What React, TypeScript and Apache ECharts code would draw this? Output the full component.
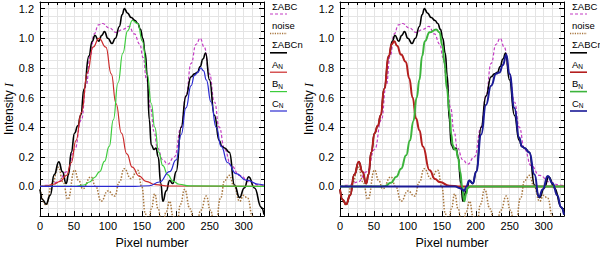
import React, { useEffect, useRef } from 'react';
import * as echarts from 'echarts';

// ---- shared curves (x = pixel number, y = intensity) ----
const sumABC: number[][] = [[0,0],[15,0.01],[26,0.03],[40,0.1],[51,0.25],[61,0.45],[68,0.68],[74,0.88],[80,1.03],[86,1.09],[92,1.1],[102,1.07],[112,1.04],[122,1.06],[131,1.08],[139,1.03],[147,0.96],[152,0.87],[157,0.72],[163,0.53],[168,0.37],[173,0.26],[181,0.18],[188,0.15],[198,0.2],[208,0.4],[215,0.61],[222.6,0.83],[230,0.96],[236,1.0],[242,0.94],[249.6,0.76],[257,0.57],[264,0.4],[272,0.25],[281.6,0.14],[294,0.075],[309,0.03],[323,0.01],[330,0.005]];

const noise: number[][] = [[0,-0.02],[9,-0.125],[18,0.02],[27,0.13],[34,0.03],[41,-0.086],[51,0.11],[57,0.04],[63,-0.015],[75,0.065],[82,0.0],[90,-0.1],[100,-0.03],[110,-0.065],[117,0.03],[124,0.12],[134,0.054],[144,0.11],[150,0.0],[155,-0.18],[159,-0.3],[164,-0.15],[169,-0.05],[174,-0.15],[180,-0.3],[186,-0.17],[191,-0.1],[196,-0.2],[201,-0.3],[207,-0.12],[213,-0.02],[221,-0.15],[229,-0.32],[237,-0.16],[245,-0.065],[251,-0.16],[258,-0.3],[266,-0.08],[272,0.04],[279,0.075],[286,0.0],[294,-0.1],[300,-0.06],[306,-0.08],[313,-0.2],[320,-0.3],[330,-0.4]];

const sumABCn: number[][] = [[0,-0.02],[4,-0.09],[9,-0.12],[15,-0.06],[21,0.08],[27.7,0.166],[33,0.1],[38.6,0.02],[42,0.08],[46,0.23],[51,0.36],[55.7,0.41],[60,0.48],[65,0.66],[72,0.88],[77,0.98],[81,1.02],[86.5,0.98],[91,1.02],[95,1.045],[100,1.0],[106,0.965],[111,1.0],[117,1.08],[121,1.16],[124.4,1.2],[129,1.17],[134.3,1.14],[140,1.12],[144,1.1],[148,1.06],[151.4,1.0],[155,0.9],[158,0.75],[161,0.45],[164,0.28],[168,0.25],[171,0.26],[174,0.2],[178,0.02],[181,-0.1],[186,-0.03],[191,0.04],[195.6,0.02],[200.6,0.1],[208,0.4],[215,0.61],[222.6,0.74],[227.6,0.76],[232,0.77],[236,0.81],[240,0.86],[244,0.9],[249.6,0.72],[257,0.48],[264,0.31],[268,0.27],[272,0.26],[279,0.23],[286.5,0.01],[294,-0.075],[301,-0.01],[307.5,0.065],[316,-0.01],[326,-0.14],[330,-0.19]];

// ---- left panel components ----
const aLeft: number[][] = [[0,0],[10,0.005],[20,0.015],[30,0.035],[39,0.075],[46,0.16],[53,0.31],[61,0.5],[70,0.77],[78,0.94],[87,1.0],[97,0.94],[105,0.76],[112,0.56],[120,0.36],[128,0.22],[136,0.13],[146,0.07],[156,0.035],[170,0.012],[190,0.003],[330,0]];
const bLeft: number[][] = [[0,0],[50,0],[65,0.01],[73,0.03],[80,0.06],[88,0.1],[95,0.17],[102,0.27],[108,0.45],[115,0.7],[122,0.9],[129,1.05],[136,1.12],[144,1.1],[151,0.98],[158,0.76],[164,0.56],[169,0.4],[175,0.23],[181,0.14],[188,0.08],[196,0.035],[205,0.015],[220,0.004],[330,0]];
const cLeft: number[][] = [[0,0],[140,0.001],[161,0.005],[176,0.03],[191,0.1],[200.6,0.18],[208,0.35],[215,0.53],[222.6,0.68],[227.6,0.75],[232.5,0.77],[237,0.8],[241,0.78],[245,0.72],[252,0.57],[259.5,0.4],[267,0.27],[276.6,0.16],[289,0.086],[303.6,0.043],[323,0.015],[330,0.01]];

// ---- right panel components ----
const aRight: number[][] = [[0,-0.02],[4,-0.09],[9,-0.12],[15,-0.06],[21,0.08],[27.7,0.166],[33,0.1],[38.6,0.02],[42,0.08],[46,0.23],[51,0.36],[55.7,0.41],[60,0.48],[65,0.66],[72,0.88],[76,0.96],[80,0.98],[84,0.95],[90,0.89],[97,0.84],[102,0.73],[107,0.6],[112,0.46],[117,0.38],[122,0.27],[132,0.11],[140,0.05],[147,0.03],[161,0.005],[175,0],[330,0]];
const bRight: number[][] = [[0,0],[60,0],[66,0.002],[75,0.025],[83,0.065],[90,0.12],[97.5,0.21],[103,0.31],[108,0.44],[113,0.6],[117,0.72],[121,0.88],[125,0.98],[132,1.04],[141.7,1.06],[146.5,1.04],[151,0.95],[154,0.83],[157.5,0.66],[161.3,0.5],[164,0.35],[166,0.28],[169,0.25],[171,0.25],[174,0.19],[177,0.1],[180,0.0],[183,-0.1],[186,-0.05],[188,-0.01],[192,0],[330,0]];
const cRight: number[][] = [[0,0],[170,0],[176,-0.01],[180,-0.02],[183,-0.03],[186,0.0],[190.5,0.04],[195.6,0.02],[200.6,0.1],[208,0.35],[215,0.55],[222.6,0.68],[230,0.76],[235,0.77],[240,0.82],[245,0.89],[249.6,0.76],[257,0.53],[264,0.33],[268,0.27],[271.7,0.26],[279,0.23],[286.5,0.08],[293,-0.07],[298.7,-0.02],[306,0.07],[313.4,0.02],[320,-0.06],[325.8,-0.14],[330,-0.19]];

const legendLabels = ['ΣABC', 'noise', 'ΣABCn', '{m|A}{s|N}', '{m|B}{s|N}', '{m|C}{s|N}'];

const FONT = '"Liberation Sans", Arial, Helvetica, sans-serif';
const X_MAX = 330;
const Y_MIN = -0.2;
const Y_MAX = 1.245;

const C_MAG = '#c43cc4';
const C_NOISE = '#a8763e';
const C_BLACK = '#000000';

function axesFor(i: number) {
  const gridLine = { show: true, lineStyle: { color: '#e4e4e4', width: 1 } };
  const common = {
    gridIndex: i,
    type: 'value',
    axisLine: { show: true, onZero: false, lineStyle: { color: '#000', width: 1 } },
    axisTick: { show: true, inside: true, length: 5, lineStyle: { color: '#000' } },
    minorTick: { show: true, splitNumber: 4, length: 3, lineStyle: { color: '#000' } },
  };
  const xb = {
    ...common,
    position: 'bottom',
    min: 0, max: X_MAX, interval: 50,
    splitLine: gridLine,
    minorSplitLine: gridLine,
    axisLabel: {
      fontSize: 11, color: '#000', fontFamily: FONT, margin: 4,
      formatter: (v: number) => (Math.abs(v % 50) < 1e-6 ? String(v) : ''),
    },
    name: 'Pixel number', nameLocation: 'middle', nameGap: 19,
    nameTextStyle: { fontSize: 12.5, color: '#000', fontFamily: FONT },
  };
  const xt = {
    ...common,
    position: 'top',
    min: 0, max: X_MAX, interval: 50,
    splitLine: { show: false },
    axisLabel: { show: false },
  };
  const yl = {
    ...common,
    position: 'left',
    min: Y_MIN, max: Y_MAX, interval: 0.2,
    splitLine: gridLine,
    minorSplitLine: gridLine,
    axisLabel: {
      fontSize: 11, color: '#000', fontFamily: FONT, margin: 6,
      formatter: (v: number) => {
        const k = v / 0.2;
        if (Math.abs(k - Math.round(k)) > 1e-6 || v < -0.1) return '';
        return Math.abs(v).toFixed(1);
      },
    },
    name: 'Intensity {i|I}', nameLocation: 'middle', nameGap: 25,
    nameTextStyle: {
      fontSize: 12, color: '#000', fontFamily: FONT,
      rich: { i: { fontSize: 12, fontStyle: 'italic', fontFamily: '"Liberation Serif", serif', color: '#000' } },
    },
  };
  const yr = {
    ...common,
    position: 'right',
    min: Y_MIN, max: Y_MAX, interval: 0.2,
    splitLine: { show: false },
    axisLabel: { show: false },
  };
  return { x: [xb, xt], y: [yl, yr] };
}

function line(name: string, data: number[][], xi: number, yi: number, color: string, width: number, type: any, z: number) {
  return {
    name, type: 'line', data, xAxisIndex: xi, yAxisIndex: yi,
    showSymbol: false, symbol: 'none', smooth: 0.5, smoothMonotone: 'x',
    lineStyle: { color, width, type }, z, clip: true, silent: true,
  };
}

function legendGraphics(x0: number, compColors: string[], compWidth: number) {
  const styles = [
    { color: C_MAG, dash: [3, 2], w: 1.2 },
    { color: C_NOISE, dash: [1.2, 1.2], w: 1.5 },
    { color: C_BLACK, dash: null, w: 1.6 },
    { color: compColors[0], dash: null, w: compWidth },
    { color: compColors[1], dash: null, w: compWidth },
    { color: compColors[2], dash: null, w: compWidth },
  ];
  const els: any[] = [];
  legendLabels.forEach((lab, k) => {
    const ly = 14 + k * 19.4;
    els.push({
      type: 'text', left: x0 + 2, top: ly - 13,
      style: {
        text: lab, fill: '#000', fontSize: 9.5, fontFamily: FONT,
        rich: {
          m: { fontSize: 9.5, fontFamily: FONT, fill: '#000' },
          s: { fontSize: 6.5, fontFamily: FONT, fill: '#000', verticalAlign: 'bottom', padding: [5, 0, 0, 0] },
        },
      },
    });
    const st: any = { stroke: styles[k].color, lineWidth: styles[k].w };
    if (styles[k].dash) st.lineDash = styles[k].dash;
    els.push({ type: 'line', shape: { x1: x0, y1: ly, x2: x0 + 17, y2: ly }, style: st });
  });
  return els;
}

export default function App() {
  const ref = useRef<HTMLDivElement>(null);
  useEffect(() => {
    if (!ref.current) return;
    const chart = echarts.init(ref.current, undefined, { renderer: 'svg' });
    const a0 = axesFor(0);
    const a1 = axesFor(1);
    const leftCols = ['#cc2a2a', '#3ccc3c', '#2a2ad0'];
    const rightCols = ['#b41e1e', '#3cb43c', '#1a1a96'];
    const option: any = {
      animation: false,
      backgroundColor: '#ffffff',
      grid: [
        { left: 40, top: 2, width: 224, height: 224 },
        { left: 340, top: 2, width: 224, height: 224 },
      ],
      xAxis: [...a0.x, ...a1.x],
      yAxis: [...a0.y, ...a1.y],
      series: [
        line('noise L', noise, 0, 0, C_NOISE, 1.5, 'dotted', 2),
        line('ΣABC L', sumABC, 0, 0, C_MAG, 1.2, [3, 2], 3),
        line('ΣABCn L', sumABCn, 0, 0, C_BLACK, 1.6, 'solid', 4),
        line('A L', aLeft, 0, 0, leftCols[0], 1.2, 'solid', 5),
        line('B L', bLeft, 0, 0, leftCols[1], 1.2, 'solid', 5),
        line('C L', cLeft, 0, 0, leftCols[2], 1.2, 'solid', 5),
        line('noise R', noise, 2, 2, C_NOISE, 1.5, 'dotted', 2),
        line('ΣABC R', sumABC, 2, 2, C_MAG, 1.2, [3, 2], 3),
        line('ΣABCn R', sumABCn, 2, 2, C_BLACK, 1.6, 'solid', 4),
        line('A R', aRight, 2, 2, rightCols[0], 2, 'solid', 5),
        line('B R', bRight, 2, 2, rightCols[1], 2, 'solid', 5),
        line('C R', cRight, 2, 2, rightCols[2], 2, 'solid', 6),
      ],
      graphic: [...legendGraphics(270, leftCols, 1.2), ...legendGraphics(570, rightCols, 1.6)],
    };
    chart.setOption(option);
    return () => chart.dispose();
  }, []);
  return (
    <div
      ref={ref}
      style={{ position: 'fixed', left: 0, top: 0, width: 600, height: 254, background: '#fff' }}
    />
  );
}
